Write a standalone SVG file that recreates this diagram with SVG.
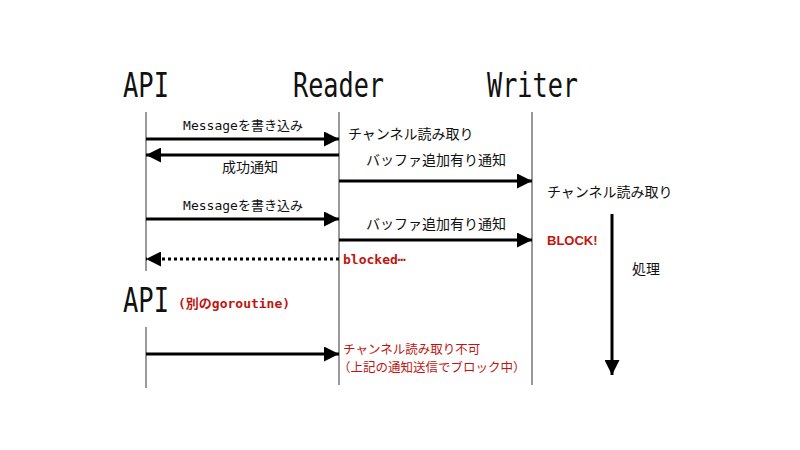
<svg xmlns="http://www.w3.org/2000/svg" width="800" height="450" viewBox="0 0 800 450">
<style>
.hdr{font-family:"DejaVu Sans Mono","Liberation Mono",monospace;font-size:33px;fill:#111}
.lbl{font-family:"DejaVu Sans Mono","Noto Sans CJK JP",monospace;font-size:13px;fill:#111}
.jp{font-family:"Noto Sans CJK JP","Noto Sans",sans-serif;font-size:14px;fill:#111}
.red{font-family:"DejaVu Sans Mono","Noto Sans CJK JP",monospace;font-size:13px;font-weight:bold;fill:#c0150f}
.redjp{font-family:"Noto Sans CJK JP",sans-serif;font-size:12.5px;fill:#c0150f}
.life{stroke:#555;stroke-width:1.2;fill:none}
.msg{stroke:#000;stroke-width:3;fill:none}
.dot{stroke:#000;stroke-width:3;stroke-dasharray:3 3;fill:none}
</style>
<defs>
<marker id="ah" viewBox="0 0 10 10" refX="10" refY="5" markerWidth="5" markerHeight="5" markerUnits="strokeWidth" orient="auto">
<path d="M0,0 L10,5 L0,10 z" fill="#000"/>
</marker>
</defs>
<rect width="800" height="450" fill="#fff"/>
<g id="api">
<text class="hdr" x="123" y="97" textLength="46" lengthAdjust="spacingAndGlyphs">API</text>
<line class="life" x1="146" y1="112" x2="146" y2="271"/>
</g>
<g id="reader">
<text class="hdr" x="293" y="97" textLength="91" lengthAdjust="spacingAndGlyphs">Reader</text>
<line class="life" x1="339" y1="112" x2="339" y2="385"/>
</g>
<g id="writer">
<text class="hdr" x="487" y="97" textLength="91" lengthAdjust="spacingAndGlyphs">Writer</text>
<line class="life" x1="532" y1="112" x2="532" y2="385"/>
</g>
<g id="api2">
<text class="hdr" x="123" y="312" textLength="46" lengthAdjust="spacingAndGlyphs">API</text>
<text class="red" x="178" y="308">(別のgoroutine)</text>
<line class="life" x1="146" y1="327" x2="146" y2="388"/>
</g>
<g id="connectors">
<line class="msg" x1="146" y1="139" x2="339" y2="139" marker-end="url(#ah)"/>
<line class="msg" x1="339" y1="155" x2="146" y2="155" marker-end="url(#ah)"/>
<line class="msg" x1="339" y1="181" x2="532" y2="181" marker-end="url(#ah)"/>
<line class="msg" x1="146" y1="219" x2="339" y2="219" marker-end="url(#ah)"/>
<line class="msg" x1="339" y1="240" x2="532" y2="240" marker-end="url(#ah)"/>
<line class="dot" x1="339" y1="259" x2="146" y2="259" marker-end="url(#ah)"/>
<line class="msg" x1="146" y1="354" x2="339" y2="354" marker-end="url(#ah)"/>
<line class="msg" x1="612" y1="214" x2="612" y2="375" marker-end="url(#ah)"/>
</g>
<g id="labels">
<text class="lbl" x="243" y="130" text-anchor="middle">Messageを書き込み</text>
<text class="jp" x="348" y="139">チャンネル読み取り</text>
<text class="jp" x="250" y="172" text-anchor="middle">成功通知</text>
<text class="jp" x="436" y="165" text-anchor="middle">バッファ追加有り通知</text>
<text class="jp" x="547" y="197">チャンネル読み取り</text>
<text class="lbl" x="243" y="210" text-anchor="middle">Messageを書き込み</text>
<text class="jp" x="436" y="229" text-anchor="middle">バッファ追加有り通知</text>
<text class="red" x="343" y="264">blocked⋯</text>
<text class="red" x="547" y="245" style="font-family:'Liberation Sans Narrow','Liberation Sans',sans-serif">BLOCK!</text>
<text class="jp" x="632" y="274">処理</text>
<text class="redjp" x="343" y="354">チャンネル読み取り不可</text>
<text class="redjp" x="338" y="372">（上記の通知送信でブロック中）</text>
</g>
</svg>
